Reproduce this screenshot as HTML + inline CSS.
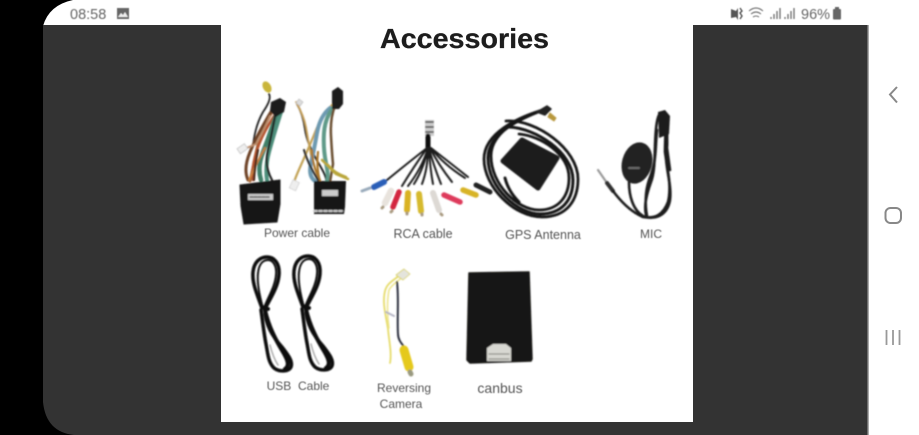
<!DOCTYPE html>
<html><head><meta charset="utf-8"><style>
html,body{margin:0;padding:0;background:#000;width:919px;height:435px;overflow:hidden}
svg{display:block}
text{font-family:"Liberation Sans",sans-serif}
</style></head><body>
<svg width="919" height="435" viewBox="0 0 919 435" xmlns="http://www.w3.org/2000/svg">
<defs>
<filter id="b" x="-5%" y="-5%" width="110%" height="110%"><feGaussianBlur stdDeviation="0.7"/></filter>
<filter id="t" x="-5%" y="-20%" width="110%" height="140%"><feGaussianBlur stdDeviation="0.45"/></filter>
</defs>
<rect width="919" height="435" fill="#000"/>
<rect x="868" width="51" height="435" fill="#fff"/>
<path d="M43 26Q49 5 73 0H868V26Z" fill="#fff"/>
<path d="M43 25H868V435H74Q46 432 43 402Z" fill="#333"/>
<rect x="867.5" y="25" width="1.5" height="410" fill="#aaa"/>
<rect x="221" y="25" width="472" height="397" fill="#fff"/>

<!-- status bar -->
<g filter="url(#t)">
<text x="70" y="19" font-size="14.5" fill="#666">08:58</text>
<rect x="117" y="8" width="12" height="11" fill="#666"/>
<path d="M118 17l3-4 2 2 2-3 3 5z" fill="#eee"/>
<path d="M731 9l5 2 2-3v12l-2-3-5 1z" fill="#555"/>
<path d="M740 8l2 3-2 2 2 3-2 3" stroke="#555" fill="none" stroke-width="1.4"/>
<g stroke="#777" fill="none" stroke-width="1.1">
<path d="M749 11q7-6 14 0M751 14q5-4 10 0M753 17q3-2 6 0"/>
<path d="M771 19v-2M774 19v-5M777 19v-8M780 19v-11" stroke-width="1.4"/>
<path d="M785 19v-2M788 19v-5M791 19v-8M794 19v-11" stroke-width="1.4"/>
</g>
<text x="801" y="19" font-size="14.5" fill="#666">96%</text>
<rect x="833" y="9" width="8" height="10.5" rx="1" fill="#666"/>
<rect x="835" y="7" width="4" height="2" fill="#666"/>
</g>

<!-- nav -->
<path d="M897 87l-7 7.500 7 8" stroke="#888" stroke-width="2" fill="none"/>
<rect x="885.500" y="208" width="15.500" height="15" rx="5" stroke="#888" stroke-width="2" fill="none"/>
<path d="M886.500 330v15M893 330v15M899.500 330v15" stroke="#999" stroke-width="1.800" fill="none"/>

<text x="380" y="48" font-size="28" font-weight="bold" fill="#1d1d1d" stroke="#1d1d1d" stroke-width=".3" textLength="169" lengthAdjust="spacingAndGlyphs">Accessories</text>

<g filter="url(#b)" fill="none" stroke-linecap="round" stroke-linejoin="round">
<!-- power cable 1 -->
<path d="M269 94q3 5-6 18-8 14-10 34" stroke="#222" stroke-width="1.800"/>
<path d="M274 108q-14 25-18 45t-6 28" stroke="#a5673a" stroke-width="3"/>
<path d="M278 110q-15 22-21 40t-4 30" stroke="#b5532f" stroke-width="2.500"/>
<path d="M272 110q-15 25-22 42t-2 28" stroke="#6e4328" stroke-width="3"/>
<path d="M277 112q-8 25-14 40t-2 28" stroke="#3f7f68" stroke-width="4.500"/>
<path d="M281 112q-8 25-12 40t-2 28" stroke="#4d8f7c" stroke-width="4"/>
<path d="M270 116q-8 18-14 28l-14 6" stroke="#bd8e6c" stroke-width="2"/>
<path d="M276 110q-4 24-8 40t4 30" stroke="#222" stroke-width="2.200"/>
<path d="M265 148q-8 14-16 32" stroke="#c9803f" stroke-width="2"/>
<path d="M258 150q-3 14-4 30" stroke="#4a2c1a" stroke-width="2.200"/>
<rect x="238" y="146" width="9" height="6" fill="#eee" stroke="#bbb" stroke-width=".7" transform="rotate(-35 242 149)"/>
<ellipse cx="267" cy="87" rx="4" ry="6" fill="#c9b53a" transform="rotate(-30 267 87)"/>
<path d="M271 102l9-4 6 4-2 10-8 5-6-6z" fill="#1b1b1b"/>
<path d="M240 185l40-5 0 24-3 18-33 2-3-18z" fill="#161616" stroke="#161616" stroke-width="1"/>
<rect x="248" y="194" width="25" height="6" fill="#ccc"/>
<path d="M250 197h20" stroke="#555" stroke-width="1.500" stroke-dasharray="3 1"/>
<!-- power cable 2 -->
<path d="M297 104q6 10 8 25t14 35 4 18" stroke="#222" stroke-width="2"/>
<path d="M296 102q8 14 10 25t6 35" stroke="#c8a25c" stroke-width="1.800"/>
<path d="M332 105q-10 10-16 25t-15 35-7 20" stroke="#c2a255" stroke-width="2.200"/>
<path d="M330 108q-10 8-13 25t-6 30 4 18" stroke="#6d9ab0" stroke-width="4"/>
<path d="M333 108q-8 10-9 25t2 30 1 18" stroke="#5f9a88" stroke-width="4"/>
<path d="M335 106q-5 12-4 30t2 28l-3 18" stroke="#6a4f33" stroke-width="2.500"/>
<path d="M322 160q8 8 14 14l12 5M328 165q6 8 18 12" stroke="#b9a63a" stroke-width="2.500"/>
<path d="M312 150q0 15 8 30M318 152q-2 14 2 30" stroke="#a9762c" stroke-width="2.200"/>
<path d="M304 150q4 14 14 30" stroke="#333" stroke-width="2.200"/>
<path d="M296 103l3-4 4 3-3 4z" fill="#ddd" stroke="#bbb" stroke-width=".7"/>
<rect x="291" y="181" width="7" height="9" fill="#eee" stroke="#ccc" stroke-width=".7" transform="rotate(25 295 185)"/>
<path d="M332 91l6-4 5 4 0 13-4 5h-7z" fill="#1b1b1b"/>
<path d="M314 181h32l-1 26-1 7h-30z" fill="#161616"/>
<rect x="322" y="190" width="16" height="6" fill="#ccc"/>
<path d="M314 211h29" stroke="#ccc" stroke-width="2" stroke-dasharray="3 2"/>

<!-- RCA -->
<rect x="425" y="120" width="9" height="16" fill="#ccc"/>
<path d="M426 122h7M426 127h7M426 132h7" stroke="#555" stroke-width="1.800"/>
<path d="M428 136v12" stroke="#111" stroke-width="5"/>
<g stroke="#1e1e1e" stroke-width="2">
<path d="M427 148q-18 14-40 32M427 148q-14 20-25 38M428 148q-6 20-20 38M428 148q-4 20-14 36M428 148q0 20-6 36M429 148q1 20 4 36M429 148q4 16 12 36M430 148q8 16 22 34M431 148q12 16 34 30M431 148q18 14 37 29"/>
</g>
<path d="M374 187l10-5" stroke="#2a5fb8" stroke-width="6"/>
<path d="M385 203l6-12" stroke="#e8e3dd" stroke-width="6.500"/>
<path d="M393 207l6-15" stroke="#d3283f" stroke-width="5.500"/>
<path d="M407 210l1-17" stroke="#d9b224" stroke-width="6"/>
<path d="M421 211l-2-17" stroke="#d6ba2e" stroke-width="6"/>
<path d="M439 210l-6-17" stroke="#ddd9d4" stroke-width="6"/>
<path d="M460 202l-16-7" stroke="#de3a5b" stroke-width="5.500"/>
<path d="M476 195l-13-5" stroke="#d8b427" stroke-width="5.500"/>
<path d="M490 192l-14-7" stroke="#222" stroke-width="5"/>
<path d="M362 191l8-3" stroke="#9ab" stroke-width="3"/>
<path d="M382 208l1-1M391 212l1-1M407 214v-1M422 215v-1M442 215l-1-1" stroke="#a89a80" stroke-width="3"/>

<!-- GPS -->
<g stroke="#151515">
<path d="M546 109c-28 8-62 24-62 50 0 28 30 58 58 58 26 0 36-18 36-38 0-30-42-60-72-58" stroke-width="2.800"/>
<path d="M538 112c-25 10-50 24-50 46 0 30 30 56 52 56 22 0 33-14 33-34 0-28-38-52-64-53" stroke-width="3"/>
<path d="M532 114c-20 8-41 22-41 42 0 28 26 54 48 54 20 0 30-14 30-32 0-24-28-42-50-44" stroke-width="2.800"/>
<path d="M505 178c3 12 10 20 14 24" stroke-width="3"/>
</g>
<path d="M503 161l19-21 35 18-19 30z" fill="#1c1c1c" stroke="#1c1c1c" stroke-width="5"/>
<path d="M537 112l10-6 4 3-6 6z" fill="#222" stroke="#222" stroke-width="1.500"/>
<path d="M550 113l6 5-2 3-6-4z" fill="#b8983e" stroke="#b8983e"/>

<!-- MIC -->
<path d="M598 170l9 13" stroke="#999" stroke-width="2.200"/>
<path d="M607 183l6 8" stroke="#333" stroke-width="4"/>
<g stroke="#1a1a1a" stroke-width="2.600">
<path d="M613 191c6 8 16 20 30 26 12 2 20-2 25-15 4-16-1-35-3-50 0-15 2-35-2-39-4-2-6 6-7 16-2 20 0 40-5 53-5 14-7 24-5 33"/>
<path d="M629 182c0 14 4 28 14 34 8 4 24 2 27-16 2-16-5-32-4-48 1-14 3-30-2-37"/>
<path d="M662 113c3 4 6 20 5 35l3 22"/>
<path d="M657 130c-2 20 0 30-8 50-4 12-4 26-2 36"/>
</g>
<path d="M658 112l7-2 5 6-1 18-10 4z" fill="#1a1a1a"/>
<ellipse cx="637" cy="163" rx="15" ry="21" fill="#232323" transform="rotate(15 637 163)"/>
<path d="M629 168h10" stroke="#6a6a6a" stroke-width="2"/>

<!-- USB -->
<g stroke="#111">
<path d="M262 308c-6-16-10-26-9-36 1-10 7-15 14-15 7 0 13 6 12 18-1 12-8 22-14 34 0 16 8 28 17 38 6 8 11 14 9 20-2 5-12 5-17 1-6-6-6-14-8-24-2-10-3-20-5-34" stroke-width="3.500"/>
<path d="M263 308c-4-14-6-26-5-35 1-9 5-13 10-13 5 0 9 6 8 15-1 12-8 22-12 33" stroke-width="2"/>
<path d="M265 310c4 18 12 32 18 42s6 14 2 17" stroke-width="4"/>
<path d="M262 307l6 2" stroke-width="4"/>
<path d="M270 345c2 8 4 14 8 20" stroke="#aaa" stroke-width="1.500"/>
</g>
<g stroke="#111" transform="translate(41 -1)">
<path d="M262 308c-6-16-10-26-9-36 1-10 7-15 14-15 7 0 13 6 12 18-1 12-8 22-14 34 0 16 8 28 17 38 6 8 11 14 9 20-2 5-12 5-17 1-6-6-6-14-8-24-2-10-3-20-5-34" stroke-width="3.500"/>
<path d="M263 308c-4-14-6-26-5-35 1-9 5-13 10-13 5 0 9 6 8 15-1 12-8 22-12 33" stroke-width="2"/>
<path d="M265 310c4 18 12 32 18 42s6 14 2 17" stroke-width="4"/>
<path d="M262 307l6 2" stroke-width="4"/>
<path d="M270 345c2 8 4 14 8 20" stroke="#aaa" stroke-width="1.500"/>
</g>

<!-- Reversing camera -->
<path d="M400 275c-6 5-13 8-15 16-3 12 1 25 3 38 1 12 4 24 2 34" stroke="#e6dc6a" stroke-width="1.800"/>
<path d="M403 276c-5 6-11 8-14 14-2 10-2 25 0 38" stroke="#ece48a" stroke-width="1.500"/>
<path d="M397 282c2 16 0 36 1 52 0 6 4 10 7 14" stroke="#2c2f3c" stroke-width="2"/>
<path d="M386 312l8 4" stroke="#b5b5c5" stroke-width="2"/>
<path d="M396 275l8-6 6 5-7 6z" fill="#e4e4dc" stroke="#d8d060" stroke-width=".8"/>
<path d="M404 350l5 17" stroke="#e5c91f" stroke-width="9"/>
<path d="M410 372l1 2" stroke="#9a9a80" stroke-width="5"/>

<!-- Canbus -->
<path d="M469 273l60-1 3 87-1 2-61 2-3-3z" fill="#161412" stroke="#161412" stroke-width="1.500"/>
<path d="M487 348l6-4h13l5 4v13h-24z" fill="#d8d8d2"/>
<path d="M489 354h20M489 359h20" stroke="#8f8f8a" stroke-width="1.200"/>
</g>

<g filter="url(#t)" font-size="12" fill="#555" text-anchor="middle">
<text x="297" y="237">Power cable</text>
<text x="423" y="238" font-size="12.500">RCA cable</text>
<text x="543" y="239" font-size="12.500">GPS Antenna</text>
<text x="651" y="238">MIC</text>
<text x="298" y="390" xml:space="preserve">USB  Cable</text>
<text x="404" y="392">Reversing</text>
<text x="401" y="408">Camera</text>
<text x="500" y="393" font-size="14">canbus</text>
</g>
</svg>
</body></html>
